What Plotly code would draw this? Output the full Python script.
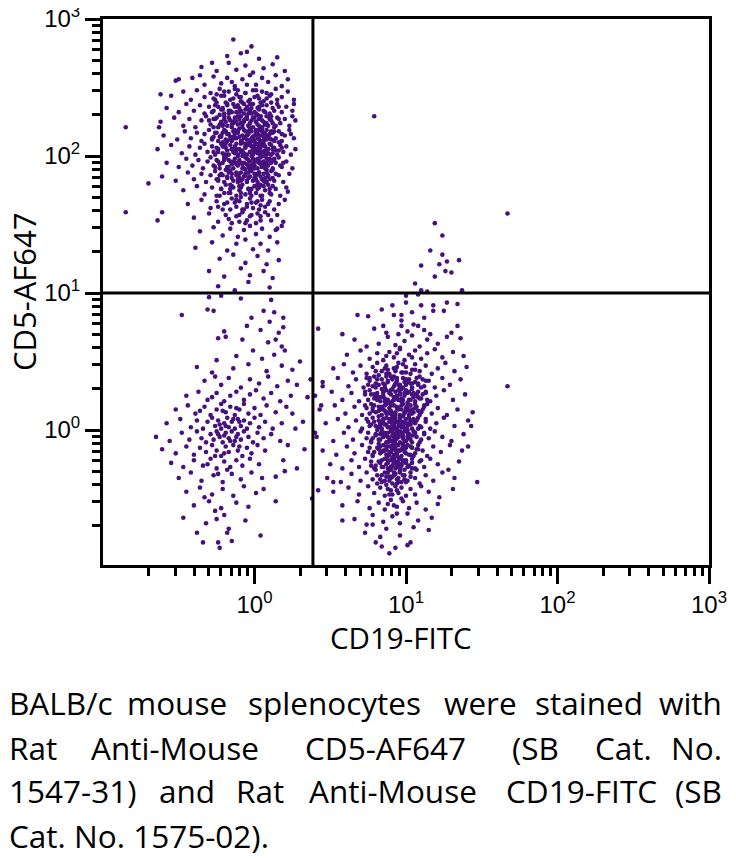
import plotly.graph_objects as go

# Event coordinates, stored as log10(value) x 100
# (CD19-FITC, CD5-AF647)
T_CELLS = [
(-14,285),(-2,280),(-9,275),(15,272),(-5,276),(3,271),(-18,273),
(-35,265),(-25,262),(-17,268),(-12,263),(-6,266),(-1,261),(6,264),(12,267),(-28,268),(20,262),
(-52,255),(-41,257),(-33,252),(-27,258),(-22,253),(-18,257),(-13,251),(-8,256),(-3,259),(1,252),(5,257),(9,254),(14,259),(18,251),(22,256),(-36,259),(-15,254),(-5,252),
(-55,244),(-47,247),(-42,241),(-38,248),(-33,243),(-29,246),(-26,241),(-23,249),(-20,244),(-17,247),(-14,242),(-11,248),(-9,243),(-6,246),(-3,241),(-1,248),(2,244),(5,247),(8,242),(11,245),(14,249),(18,243),(22,247),(26,241),(-25,245),(-12,245),(0,243),
(-58,235),(-50,232),(-45,238),(-40,233),(-36,237),(-33,231),(-30,236),(-27,233),(-25,239),(-22,234),(-20,231),(-18,237),(-16,233),(-14,238),(-12,232),(-10,235),(-8,239),(-7,231),(-5,236),(-3,233),(-1,238),(1,231),(2,235),(4,239),(6,233),(8,237),(10,231),(12,235),(15,238),(18,232),(21,236),(25,233),(-24,236),(-11,237),(-4,231),(3,234),(-19,239),(-9,233),
(-62,225),(-53,228),(-47,222),(-43,227),(-39,221),(-35,226),(-32,229),(-29,223),(-27,227),(-24,221),(-22,225),(-20,229),(-18,222),(-16,226),(-15,221),(-13,228),(-11,223),(-10,227),(-8,221),(-7,225),(-5,229),(-4,222),(-2,226),(-1,221),(0,228),(2,223),(3,227),(5,221),(6,225),(8,229),(9,222),(11,226),(13,221),(15,228),(17,224),(20,227),(23,222),(27,226),(-25,228),(-21,223),(-12,225),(-6,227),(-3,224),(1,225),(4,229),(7,223),(10,228),(-14,224),(-9,229),(12,224),(-30,226),(-17,228),
(-60,215),(-51,212),(-46,218),(-42,213),(-38,217),(-35,211),(-33,216),(-30,219),(-28,213),(-26,217),(-24,211),(-22,215),(-20,219),(-19,212),(-17,216),(-15,211),(-14,218),(-12,213),(-11,217),(-9,211),(-8,215),(-7,219),(-5,212),(-4,216),(-3,211),(-2,218),(-1,214),(0,211),(1,217),(2,213),(3,219),(4,215),(5,211),(6,217),(7,213),(8,219),(9,215),(11,212),(12,217),(14,213),(16,218),(18,211),(20,215),(23,219),(26,213),(-23,214),(-16,214),(-10,214),(-6,218),(-1,211),(2,216),(5,218),(8,212),(10,216),(13,211),(-13,219),(-21,217),(-7,213),(0,215),(3,212),(6,214),(24,216),(-27,214),
(-64,205),(-55,208),(-48,202),(-43,207),(-39,201),(-36,206),(-33,209),(-31,203),(-28,207),(-26,201),(-24,205),(-22,209),(-21,202),(-19,206),(-17,201),(-16,208),(-14,203),(-13,207),(-11,201),(-10,205),(-9,209),(-7,202),(-6,206),(-5,201),(-4,208),(-3,203),(-2,207),(-1,201),(0,205),(1,209),(2,202),(3,206),(4,201),(5,208),(6,203),(7,207),(8,201),(9,205),(10,209),(12,202),(13,206),(15,201),(17,208),(19,203),(21,207),(24,201),(27,205),(-8,204),(-3,209),(1,204),(4,206),(7,204),(11,208),(-12,204),(-18,204),(-2,200),(3,204),(6,200),(9,202),(-15,205),(0,208),(14,204),(-20,207),(-6,209),(2,205),
(-58,195),(-50,192),(-45,198),(-41,193),(-37,197),(-34,191),(-31,196),(-29,199),(-27,193),(-25,197),(-23,191),(-21,195),(-19,199),(-18,192),(-16,196),(-14,191),(-13,198),(-11,193),(-10,197),(-8,191),(-7,195),(-6,199),(-4,192),(-3,196),(-2,191),(-1,198),(0,193),(1,197),(2,191),(3,195),(4,199),(5,192),(6,196),(7,191),(8,198),(9,193),(10,197),(12,191),(14,195),(16,199),(18,192),(21,196),(25,191),(-9,195),(-5,194),(0,196),(4,194),(7,194),(11,195),(-15,194),(-20,197),(-1,194),(2,198),(5,195),(-12,195),(13,198),(-3,193),
(-61,185),(-52,182),(-44,188),(-40,183),(-35,187),(-32,181),(-29,186),(-26,189),(-24,183),(-22,187),(-20,181),(-18,185),(-16,189),(-14,182),(-12,186),(-11,181),(-9,188),(-8,183),(-6,187),(-5,181),(-3,185),(-2,189),(-1,182),(1,186),(2,181),(3,188),(5,183),(6,187),(8,181),(9,185),(11,189),(13,182),(16,186),(19,181),(23,187),(-10,184),(-4,184),(0,187),(4,185),(7,184),(-15,187),(-7,185),(10,183),
(-47,175),(-38,178),(-33,172),(-28,177),(-25,171),(-22,176),(-19,179),(-17,173),(-14,177),(-12,171),(-10,175),(-8,179),(-6,172),(-4,176),(-2,171),(0,178),(1,173),(3,177),(5,171),(7,175),(9,179),(11,172),(14,176),(17,171),(21,177),(-16,176),(-9,173),(-3,174),(2,176),(6,178),(-20,173),(12,178),
(-44,165),(-35,168),(-29,162),(-25,167),(-21,161),(-18,166),(-15,169),(-12,163),(-10,167),(-7,161),(-5,165),(-3,169),(-1,162),(1,166),(3,161),(5,168),(7,163),(10,167),(13,161),(16,165),(20,168),(-13,166),(-2,166),(4,164),(-24,163),
(-40,155),(-30,158),(-24,152),(-19,157),(-15,151),(-12,156),(-8,159),(-5,153),(-2,157),(1,151),(4,156),(7,159),(11,153),(15,157),(19,152),(-10,152),(2,158),
(-36,145),(-27,148),(-21,142),(-16,147),(-11,141),(-7,146),(-3,149),(1,143),(5,147),(10,141),(14,146),(18,149),
(-39,133),(-28,137),(-18,131),(-12,136),(-6,139),(-1,132),(4,136),(9,131),(15,137),
(-23,125),(-14,128),(-6,122),(2,127),(8,121),(16,124),
(-30,116),(-20,112),(-9,118),(-3,113),(6,116),(12,111),
(-24,105),(-13,102),(-4,108),(10,104),
(-85,221),(-85,159),(-70,180),(-64,153),(-61,159),(-62,245),(-63,221),(-50,256),(25,229),(26,238),(22,174),(15,147),
# dense core
(-24,182),(-21,186),(-18,190),(-15,184),(-12,188),(-9,182),(-6,186),(-3,190),(0,184),(3,188),(6,182),(9,186),
(-23,194),(-20,198),(-17,192),(-14,196),(-11,200),(-8,194),(-5,198),(-2,192),(1,196),(4,200),(7,194),(10,198),
(-24,203),(-21,207),(-18,211),(-15,205),(-12,209),(-9,203),(-6,207),(-3,211),(0,203),(3,207),(6,211),(9,205),
(-22,214),(-19,218),(-16,212),(-13,216),(-10,220),(-7,214),(-4,218),(-1,212),(2,216),(5,220),(8,214),(11,218),
(-23,223),(-20,227),(-17,231),(-14,225),(-11,229),(-8,223),(-5,227),(-2,231),(1,225),(4,229),(7,223),(10,227),
(-21,234),(-18,238),(-15,232),(-12,236),(-9,240),(-6,234),(-3,238),(0,232),(3,236),(6,240),
(-10,178),(-4,176),(2,179),(-16,179),(-7,191),(-1,205),(5,192),(-13,213),(-4,222),(2,209),(-8,200),(-19,201),(8,190),
(-20,247),(-13,249),(-6,246),(1,248),(8,246),
(-27,242),(-22,244),(-16,241),(-10,243),(-4,240),(3,242),(10,244),(15,241),
(-26,237),(-21,235),(-13,236),(-7,238),(-2,235),(5,237),(11,239),(16,236),
(-28,232),(-23,230),(-17,233),(-10,232),(-4,234),(2,230),(7,232),(13,233),
(-26,227),(-19,225),(-13,226),(-7,226),(-1,228),(5,226),(11,229),(16,227),
(-27,221),(-21,222),(-15,223),(-9,224),(-3,220),(3,222),(8,224),(14,222),
(-25,217),(-18,216),(-11,218),(-5,215),(1,219),(7,216),(13,218),(18,216),
(-28,212),(-21,210),(-14,214),(-8,210),(-2,213),(4,210),(10,213),(16,210),
(-25,206),(-19,209),(-12,205),(-5,209),(0,206),(6,209),(12,205),(18,206),
(-27,203),(-20,200),(-13,202),(-8,203),(-1,202),(5,203),(11,201),(16,204),
(-24,196),(-17,197),(-10,195),(-4,197),(3,196),(8,195),(13,197),(19,195),
(-26,192),(-19,190),(-12,194),(-6,190),(0,191),(6,193),(12,190),(17,193),
(-23,186),(-17,188),(-10,187),(-4,188),(2,187),(8,188),(14,187),
(-25,183),(-18,184),(-11,183),(-5,182),(1,183),(7,181),(12,184),
(-22,176),(-15,178),(-9,177),(-2,176),(4,179),(10,176),
(-23,171),(-16,173),(-9,170),(-3,173),(4,171),(10,173),
(-20,165),(-12,168),(-5,163),(2,167),(9,165),(-8,161),(-16,161),
(-17,154),(-10,157),(-3,156),(4,153),(-6,151),(9,157),
]

DN_CELLS = [
(-30,97),(-22,98),(-9,96),(11,95),
(-48,84),(-31,88),(-27,87),(-2,82),(6,87),(13,86),(19,82),
(-5,76),(4,73),(10,79),(16,71),(19,75),(-20,72),
(-24,67),(-8,66),(-19,68),(9,64),(14,66),(18,61),
(-12,54),(-1,58),(13,55),(20,58),(-25,51),(5,52),
(-28,42),(-14,45),(-4,48),(8,43),(18,47),(25,44),(-38,46),
(-33,36),(-22,33),(-17,38),(-9,31),(-3,37),(3,34),(9,39),(15,32),(22,36),(28,33),(-26,39),
(-45,25),(-37,28),(-31,22),(-25,27),(-20,21),(-16,25),(-12,28),(-7,22),(-3,26),(1,29),(6,23),(11,27),(17,21),(24,25),(-28,24),
(-52,15),(-44,18),(-39,12),(-33,17),(-29,11),(-25,15),(-22,19),(-19,13),(-16,17),(-13,11),(-10,15),(-7,19),(-4,12),(0,16),(4,11),(8,18),(14,13),(21,17),(-21,14),(-12,16),(-36,14),
(-58,5),(-49,8),(-42,2),(-38,7),(-34,1),(-31,6),(-28,9),(-26,3),(-24,7),(-22,1),(-20,5),(-18,9),(-17,2),(-15,6),(-13,1),(-11,8),(-9,3),(-7,7),(-5,1),(-3,5),(0,9),(3,2),(7,6),(12,1),(18,5),(-19,3),(-14,8),(-23,4),(-10,6),
(-65,-5),(-56,-8),(-48,-2),(-43,-7),(-38,-1),(-35,-6),(-32,-9),(-29,-3),(-27,-7),(-25,-1),(-23,-5),(-21,-9),(-19,-2),(-17,-6),(-15,-1),(-13,-8),(-11,-3),(-9,-7),(-7,-1),(-4,-5),(-1,-9),(2,-2),(6,-6),(11,-3),(17,-8),(-20,-4),(-16,-8),(-24,-3),(-12,-5),
(-61,-14),(-52,-17),(-45,-12),(-40,-18),(-36,-13),(-32,-16),(-28,-11),(-25,-15),(-22,-19),(-19,-12),(-17,-16),(-14,-11),(-11,-15),(-8,-19),(-5,-13),(-2,-17),(2,-11),(7,-15),(-20,-17),(-10,-12),(-26,-19),
(-55,-24),(-47,-27),(-40,-22),(-34,-26),(-29,-21),(-25,-28),(-20,-23),(-16,-27),(-12,-22),(-8,-26),(-3,-21),(3,-25),(-18,-29),(-31,-25),
(-50,-35),(-42,-31),(-35,-37),(-27,-33),(-21,-38),(-15,-32),(-9,-36),(-2,-31),(5,-35),(-24,-32),(14,-34),
(-45,-45),(-36,-42),(-28,-47),(-21,-43),(-14,-48),(-7,-41),(1,-46),(-33,-49),(6,-43),
(-40,-55),(-30,-52),(-22,-57),(-12,-53),(-4,-56),(-26,-59),(14,-52),
(-47,-64),(-32,-68),(-20,-62),(-6,-66),(-25,-65),
(-38,-75),(-17,-72),
(-34,-82),(-24,-82),(-18,-75),(-15,-81),(4,-77),(-23,-86),
(27,1),(32,6),(33,-14),(28,-28),(20,-30),(19,-22),(30,50),(35,24),(37,37),(38,-50),(22,-11),(25,12),
]

B_CELLS = [
(79,229),(167,158),(119,151),(124,142),(116,131),(124,128),(122,121),(127,123),(135,124),(110,120),(126,116),(130,115),(119,112),(106,107),(110,102),(114,101),(137,102),(108,99),(100,98),
(91,91),(110,91),(118,91),(100,93),(127,93),(134,92),
(68,84),(75,83),(92,84),(97,84),(97,80),(118,87),(125,87),(84,88),(104,86),(112,82),
(85,76),(97,76),(105,77),(108,76),(112,73),(134,76),(58,70),(87,71),(95,70),(116,70),(130,71),(79,74),(101,72),(42,74),
(136,67),(66,66),(82,63),(88,68),(93,62),(99,65),(104,69),(109,61),(114,66),(121,63),(127,68),(74,61),(96,60),
(61,55),(70,58),(76,52),(81,56),(85,51),(89,57),(92,53),(96,59),(99,51),(102,55),(106,58),(110,52),(114,56),(119,59),(124,53),(131,57),(138,54),(87,54),(94,56),(104,53),
(52,45),(59,48),(65,42),(70,47),(74,41),(78,46),(81,49),(84,43),(87,47),(89,41),(92,45),(95,49),(97,42),(100,46),(103,41),(106,48),(109,43),(113,47),(117,41),(121,45),(126,49),(132,43),(140,46),(86,45),(93,43),(98,48),(104,44),
(45,35),(55,38),(62,32),(67,37),(72,31),(76,36),(79,39),(82,33),(84,37),(86,31),(88,35),(90,39),(92,32),(94,36),(96,31),(98,38),(100,33),(102,37),(104,31),(106,35),(109,39),(112,32),(115,36),(119,31),(124,38),(129,33),(136,37),(167,32),(85,34),(91,37),(95,33),(99,35),(103,34),(108,33),(78,32),(111,37),(45,32),
(40,25),(51,28),(58,22),(64,27),(69,21),(73,26),(76,29),(79,23),(81,27),(83,21),(85,25),(87,29),(88,22),(90,26),(91,21),(93,28),(94,23),(96,27),(97,21),(99,25),(100,29),(102,22),(104,26),(106,21),(108,28),(110,23),(113,27),(116,21),(120,25),(125,29),(131,22),(139,26),(86,23),(89,27),(92,24),(95,29),(98,22),(101,27),(105,24),(82,24),(111,26),(94,25),
(43,15),(53,18),(60,12),(66,17),(71,11),(74,16),(77,19),(80,13),(82,17),(84,11),(85,15),(87,19),(88,12),(89,16),(91,11),(92,18),(93,13),(94,17),(96,11),(97,15),(98,19),(99,12),(101,16),(102,11),(103,18),(105,13),(107,17),(109,11),(111,15),(114,19),(117,12),(121,16),(127,11),(134,15),(86,14),(90,14),(95,15),(100,14),(104,15),(108,14),(92,12),(97,18),(83,15),(112,18),(144,13),(44,18),
(47,5),(55,8),(62,2),(67,7),(71,1),(75,6),(78,9),(80,3),(82,7),(84,1),(85,5),(87,9),(88,2),(89,6),(90,1),(91,8),(92,3),(93,7),(94,1),(95,5),(96,9),(97,2),(98,6),(99,1),(100,8),(101,3),(103,7),(104,1),(106,5),(108,9),(110,2),(113,6),(116,1),(120,5),(125,9),(132,3),(141,7),(86,4),(89,8),(92,5),(95,3),(98,4),(102,5),(94,6),(91,4),(105,8),(83,5),(100,5),(143,3),
(41,-5),(52,-8),(59,-2),(65,-7),(70,-1),(74,-6),(77,-9),(80,-3),(82,-7),(84,-1),(85,-5),(87,-9),(88,-2),(89,-6),(90,-1),(91,-8),(92,-3),(93,-7),(94,-1),(95,-5),(96,-9),(97,-2),(98,-6),(99,-1),(100,-8),(102,-3),(103,-7),(105,-1),(107,-5),(109,-9),(112,-2),(115,-6),(119,-1),(124,-5),(130,-8),(138,-3),(86,-4),(89,-8),(92,-5),(95,-3),(98,-4),(101,-5),(94,-6),(91,-4),(104,-4),(83,-3),(96,-4),(40,-2),
(45,-15),(54,-18),(61,-12),(66,-17),(71,-11),(75,-16),(78,-19),(81,-13),(83,-17),(85,-11),(86,-15),(88,-19),(89,-12),(90,-16),(91,-11),(92,-18),(93,-13),(94,-17),(95,-11),(96,-15),(97,-19),(98,-12),(99,-16),(101,-11),(102,-18),(104,-13),(106,-17),(108,-11),(111,-15),(114,-19),(118,-12),(123,-16),(129,-11),(137,-15),(87,-14),(91,-14),(95,-15),(99,-14),(93,-15),(89,-16),(100,-13),(141,-12),
(50,-25),(58,-28),(64,-22),(69,-27),(73,-21),(77,-26),(80,-29),(82,-23),(84,-27),(86,-21),(87,-25),(89,-29),(90,-22),(91,-26),(92,-21),(93,-28),(94,-23),(95,-27),(96,-21),(97,-25),(99,-29),(100,-22),(102,-26),(104,-21),(106,-28),(109,-23),(112,-27),(116,-21),(121,-25),(128,-29),(135,-23),(88,-24),(92,-24),(95,-24),(98,-23),(90,-27),(94,-26),
(48,-35),(57,-38),(64,-32),(70,-37),(74,-31),(78,-36),(81,-39),(84,-33),(86,-37),(88,-31),(90,-35),(91,-39),(93,-32),(94,-36),(96,-31),(97,-38),(99,-33),(101,-37),(103,-31),(106,-35),(109,-39),(113,-33),(118,-37),(124,-31),(132,-35),(147,-38),(89,-34),(95,-35),(92,-33),(52,-38),
(52,-45),(62,-42),(69,-47),(75,-41),(79,-46),(83,-42),(86,-48),(88,-43),(91,-47),(93,-41),(95,-46),(97,-42),(100,-48),(103,-43),(106,-47),(110,-41),(115,-45),(122,-49),(131,-43),(90,-44),(42,-44),
(58,-55),(68,-52),(76,-57),(82,-53),(86,-58),(90,-51),(94,-56),(98,-52),(102,-57),(107,-53),(113,-58),(121,-54),(88,-54),
(66,-65),(78,-62),(85,-67),(91,-63),(96,-68),(101,-61),(108,-66),(117,-64),(94,-61),(58,-66),(78,-69),(74,-69),
(73,-75),(87,-72),(96,-77),(105,-71),(115,-73),(83,-78),
(80,-82),(93,-86),(101,-84),(89,-90),(84,-85),(103,-82),
# dense core
(76,38),(80,34),(84,30),(88,36),(92,39),(96,33),(100,37),(104,30),(108,34),
(77,26),(81,22),(85,28),(89,20),(93,24),(97,30),(101,20),(105,27),(109,23),
(78,14),(82,10),(86,18),(90,12),(94,16),(98,10),(102,14),(106,19),(79,18),
(77,4),(81,0),(85,8),(89,2),(93,9),(97,4),(101,0),(105,6),(109,3),(83,3),
(78,-6),(82,-10),(86,-2),(90,-8),(94,-4),(98,-10),(102,-6),(106,-2),(88,-5),
(79,-16),(83,-12),(87,-18),(91,-14),(95,-20),(99,-12),(103,-18),(107,-14),(93,-10),
(80,-26),(84,-22),(88,-28),(92,-24),(96,-30),(100,-24),(104,-28),(91,-20),(86,-31),
(83,-36),(87,-40),(91,-34),(95,-38),(99,-36),(94,-44),(89,-47),(97,-50),(92,-55),
(87,12),(95,22),(91,30),(99,27),(85,-15),(97,-26),(90,6),(96,-1),(84,24),(100,16),(82,40),(88,44),(94,46),(98,42),
(80,43),(87,41),(93,44),(100,42),(106,44),
(74,38),(81,37),(87,39),(94,38),(101,35),(107,38),(113,36),
(75,33),(80,31),(86,33),(93,34),(98,31),(104,34),(110,31),
(73,28),(79,26),(85,27),(90,29),(96,26),(102,28),(107,26),(113,28),
(75,22),(80,24),(86,21),(92,22),(97,23),(103,22),(108,24),(114,22),
(73,18),(78,16),(84,17),(90,18),(95,16),(101,18),(106,16),(112,17),
(76,12),(82,14),(88,13),(93,11),(99,13),(104,12),(110,13),
(74,8),(79,6),(85,7),(91,9),(96,7),(102,9),(107,7),(113,8),
(76,3),(82,2),(87,4),(92,1),(98,3),(103,4),(108,1),
(75,-2),(80,-4),(85,-3),(91,-1),(96,-3),(101,-2),(106,-4),(112,-3),
(77,-8),(83,-7),(88,-9),(93,-7),(99,-8),(104,-9),(110,-7),
(76,-13),(82,-14),(87,-12),(92,-13),(97,-14),(103,-12),(108,-14),
(78,-18),(84,-16),(89,-18),(94,-19),(100,-17),(105,-19),
(77,-23),(83,-24),(88,-22),(93,-24),(98,-22),(104,-24),(110,-22),
(79,-28),(85,-27),(90,-29),(96,-28),(101,-27),(107,-29),
(81,-33),(87,-34),(92,-31),(98,-33),(103,-34),
(84,-38),(89,-37),(94,-39),(100,-38),
]

GATE_CD19 = 2.43
GATE_CD5 = 10
MAJOR_TICKS = [1, 10, 100, 1000]
MAJOR_TEXT = ["10<sup>0</sup>", "10<sup>1</sup>", "10<sup>2</sup>", "10<sup>3</sup>"]
MINOR_TICKS = [0.2, 0.3, 0.4, 0.5, 0.6, 0.7, 0.8, 0.9,
               2, 3, 4, 5, 6, 7, 8, 9,
               20, 30, 40, 50, 60, 70, 80, 90,
               200, 300, 400, 500, 600, 700, 800, 900]
X_TITLE = "CD19-FITC"
Y_TITLE = "CD5-AF647"
CAPTION_LINES = [
    ["BALB/c", "mouse", "splenocytes", "were", "stained", "with"],
    ["Rat", "Anti-Mouse", "CD5-AF647", "(SB", "Cat.", "No."],
    ["1547-31)", "and", "Rat", "Anti-Mouse", "CD19-FITC", "(SB"],
    ["Cat. No. 1575-02)."],
]

DOT = "#46107e"
OFF = 8                     # page body margin
PAGE_W, PAGE_H = 736, 860
FW, FH = PAGE_W - OFF, PAGE_H - OFF
# plot area in page pixels
PL, PR, PT, PB = 103, 709, 19, 565

fig = go.Figure()
for pop in (T_CELLS, DN_CELLS, B_CELLS):
    fig.add_trace(go.Scatter(
        x=[10 ** (p[0] / 100) for p in pop],
        y=[10 ** (p[1] / 100) for p in pop],
        mode="markers",
        marker=dict(size=4.6, color=DOT, line=dict(width=0)),
        hoverinfo="skip",
    ))

# quadrant gate lines (clipped to plot area)
fig.add_trace(go.Scatter(x=[GATE_CD19, GATE_CD19], y=[0.01, 10000], mode="lines",
                         line=dict(color="black", width=3), hoverinfo="skip"))
fig.add_trace(go.Scatter(x=[0.01, 10000], y=[GATE_CD5, GATE_CD5], mode="lines",
                         line=dict(color="black", width=3), hoverinfo="skip"))

tickfont = dict(family="Liberation Sans, Arial, sans-serif", size=24, color="black")
axis_common = dict(
    type="log", showgrid=False, zeroline=False, automargin=False,
    showline=True, linecolor="black", linewidth=3, mirror=True,
    ticks="outside", tickcolor="black", tickwidth=3,
    tickmode="array", tickvals=MAJOR_TICKS, ticktext=MAJOR_TEXT, tickfont=tickfont,
    ticklabeloverflow="allow",
    minor=dict(tickmode="array", tickvals=MINOR_TICKS, ticks="outside",
               ticklen=8, tickwidth=3, tickcolor="black", showgrid=False),
)

fig.update_layout(
    width=FW, height=FH, autosize=False,
    margin=dict(l=PL - OFF, r=FW - (PR - OFF), t=PT - OFF, b=FH - (PB - OFF), pad=0),
    paper_bgcolor="white", plot_bgcolor="white",
    showlegend=False,
    xaxis=dict(range=[-1, 3], ticklen=16, **axis_common),
    yaxis=dict(range=[-0.985, 3], ticklen=15, **axis_common),
)

def px(xp):
    return (xp - PL) / (PR - PL)

def py(yp):
    return (PB - yp) / (PB - PT)

fig.add_annotation(text=X_TITLE, x=px(401), y=py(637), xref="paper", yref="paper",
                   showarrow=False, xanchor="center", yanchor="middle",
                   font=dict(family="Open Sans, sans-serif", size=29.5, color="black"))
fig.add_annotation(text=Y_TITLE, x=px(24), y=py(292), xref="paper", yref="paper",
                   showarrow=False, xanchor="center", yanchor="middle", textangle=-90,
                   font=dict(family="Open Sans, sans-serif", size=31, color="black"))

cap_font = dict(family="Open Sans, sans-serif", size=31.5, color="black")
# horizontal anchor of each word: ("l", left edge) / ("c", centre) / ("r", right edge)
word_pos = [
    [("l", 7), ("c", 177), ("c", 334), ("c", 480), ("c", 589), ("r", 724)],
    [("l", 7), ("c", 175), ("c", 385), ("c", 535), ("c", 623), ("r", 724)],
    [("l", 7), ("c", 187), ("c", 260), ("c", 393), ("c", 581), ("r", 724)],
    [("l", 7)],
]
line_mid = [702, 747, 791, 835]
anchors = {"l": "left", "c": "center", "r": "right"}
for words, poss, ym in zip(CAPTION_LINES, word_pos, line_mid):
    for w, (a, xp) in zip(words, poss):
        fig.add_annotation(text=w, x=px(xp), y=py(ym), xref="paper", yref="paper",
                           showarrow=False, xanchor=anchors[a], yanchor="middle",
                           font=cap_font)

fig.write_html("out.html")
